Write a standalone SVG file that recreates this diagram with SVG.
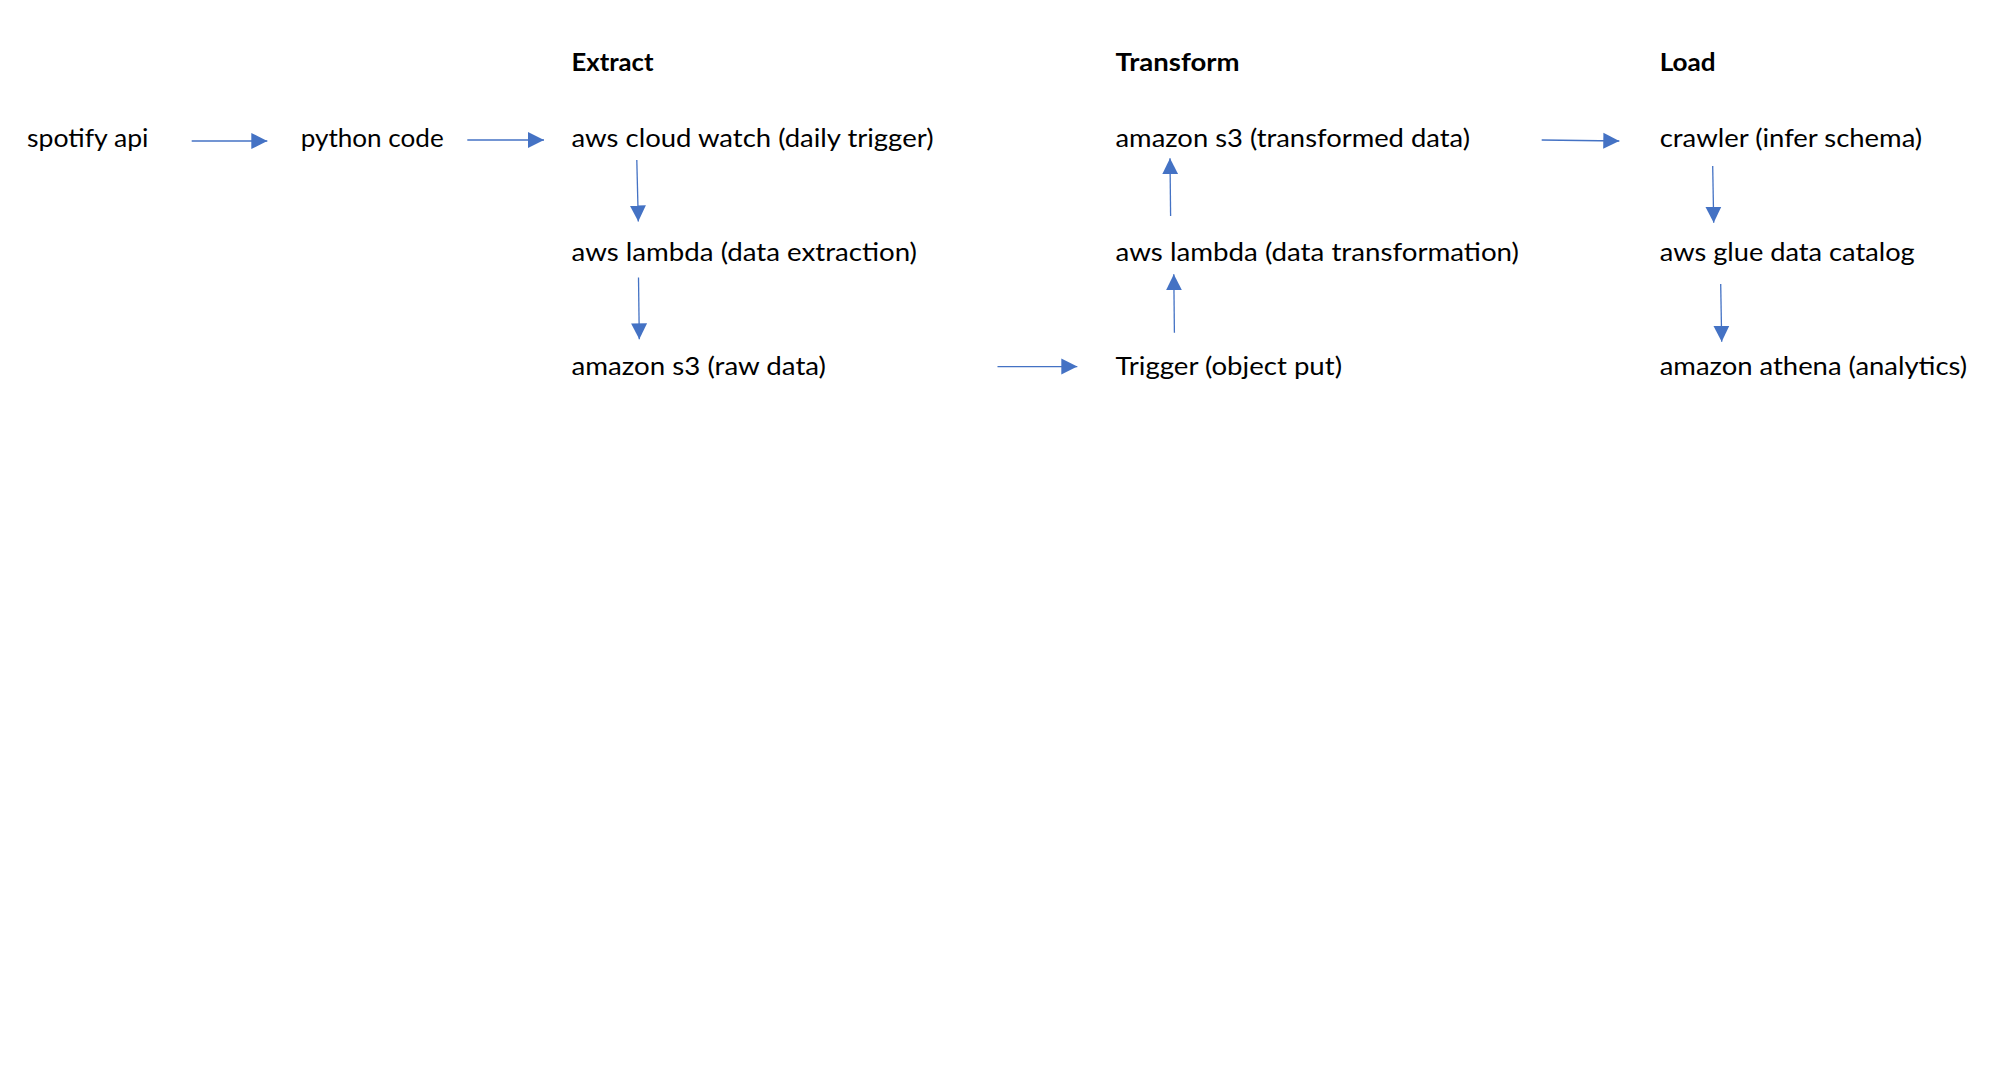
<svg xmlns="http://www.w3.org/2000/svg" width="2008" height="1080" viewBox="0 0 2008 1080">
<style>
  .t { font-family: Lato, "Liberation Sans", sans-serif; font-size: 24.5px; fill: #000; }
  .h { font-family: Lato, "Liberation Sans", sans-serif; font-size: 24.5px; font-weight: bold; fill: #000; }
  .c { fill: none; stroke: #4472C4; stroke-width: 1.3; marker-end: url(#ah); }
</style>
<defs>
  <marker id="ah" markerUnits="userSpaceOnUse" markerWidth="18" markerHeight="18" viewBox="0 0 18 18" refX="16" refY="9" orient="auto">
    <path d="M0,1 L16,9 L0,17 Z" fill="#4472C4"/>
  </marker>
</defs>
<rect width="2008" height="1080" fill="#fff"/>

<g id="headers">
  <g id="h-extract"><text class="h" x="571.5" y="71" textLength="82" lengthAdjust="spacingAndGlyphs">Extract</text></g>
  <g id="h-transform"><text class="h" x="1115.5" y="71" textLength="124" lengthAdjust="spacingAndGlyphs">Transform</text></g>
  <g id="h-load"><text class="h" x="1659.7" y="71" textLength="56" lengthAdjust="spacingAndGlyphs">Load</text></g>
</g>

<g id="n-spotify"><text class="t" x="27" y="147" textLength="121.5" lengthAdjust="spacingAndGlyphs">spotify api</text></g>
<g id="n-python"><text class="t" x="300.7" y="147" textLength="143" lengthAdjust="spacingAndGlyphs">python code</text></g>
<g id="n-cloudwatch"><text class="t" x="571.5" y="147" textLength="362" lengthAdjust="spacingAndGlyphs">aws cloud watch (daily trigger)</text></g>
<g id="n-lambda-extract"><text class="t" x="571.5" y="260.5" textLength="345.5" lengthAdjust="spacingAndGlyphs">aws lambda (data extraction)</text></g>
<g id="n-s3-raw"><text class="t" x="571.5" y="374.5" textLength="254.5" lengthAdjust="spacingAndGlyphs">amazon s3 (raw data)</text></g>
<g id="n-s3-transformed"><text class="t" x="1115.5" y="147" textLength="354.5" lengthAdjust="spacingAndGlyphs">amazon s3 (transformed data)</text></g>
<g id="n-lambda-transform"><text class="t" x="1115.5" y="260.5" textLength="403.5" lengthAdjust="spacingAndGlyphs">aws lambda (data transformation)</text></g>
<g id="n-trigger"><text class="t" x="1115.5" y="374.5" textLength="226.5" lengthAdjust="spacingAndGlyphs">Trigger (object put)</text></g>
<g id="n-crawler"><text class="t" x="1659.7" y="147" textLength="262.5" lengthAdjust="spacingAndGlyphs">crawler (infer schema)</text></g>
<g id="n-glue"><text class="t" x="1659.7" y="260.5" textLength="255" lengthAdjust="spacingAndGlyphs">aws glue data catalog</text></g>
<g id="n-athena"><text class="t" x="1659.7" y="374.5" textLength="307.5" lengthAdjust="spacingAndGlyphs">amazon athena (analytics)</text></g>

<g id="connectors">
  <line class="c" x1="191.7" y1="141" x2="267.3" y2="141"/>
  <line class="c" x1="467.3" y1="140" x2="544" y2="140"/>
  <line class="c" x1="636.8" y1="160" x2="638.3" y2="221.5"/>
  <line class="c" x1="638.5" y1="277.5" x2="639.3" y2="339.3"/>
  <line class="c" x1="997.5" y1="366.6" x2="1077.3" y2="366.6"/>
  <line class="c" x1="1174.4" y1="332.7" x2="1173.8" y2="274.3"/>
  <line class="c" x1="1170.6" y1="216" x2="1170" y2="158.3"/>
  <line class="c" x1="1541.7" y1="140" x2="1619.3" y2="141"/>
  <line class="c" x1="1712.7" y1="166" x2="1713.7" y2="222.7"/>
  <line class="c" x1="1720.7" y1="284" x2="1721.7" y2="341.7"/>
</g>
</svg>
